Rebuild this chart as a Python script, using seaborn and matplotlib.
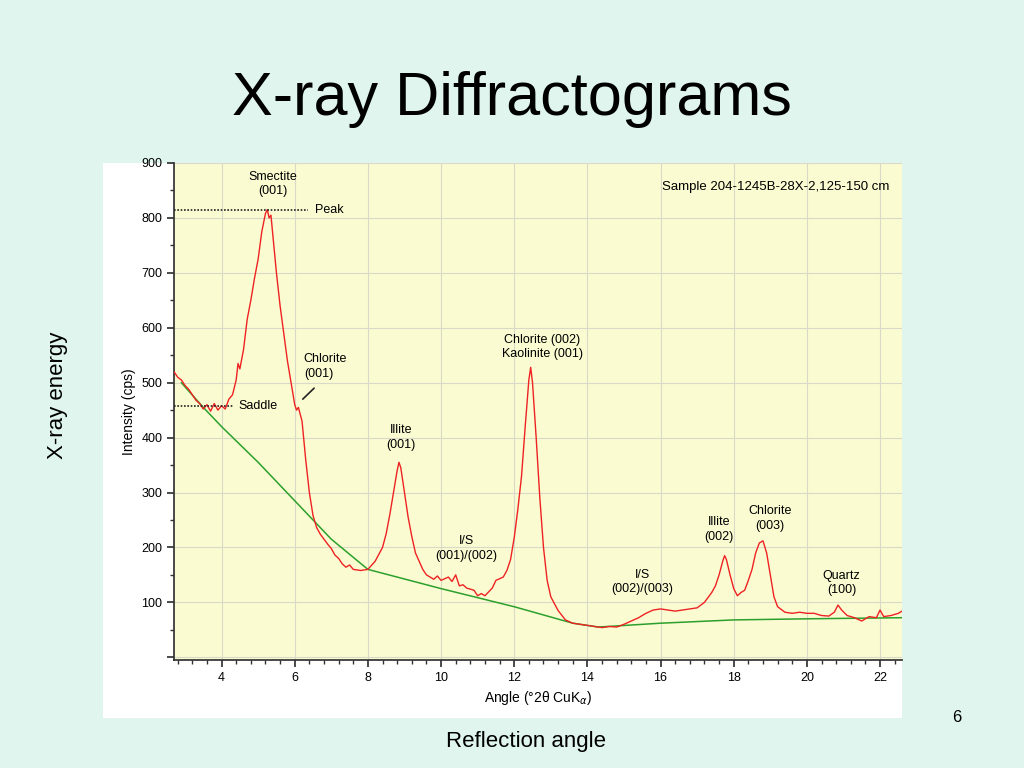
import matplotlib
matplotlib.use("Agg")
import matplotlib.pyplot as plt
import seaborn as sns
import pandas as pd
from matplotlib.ticker import MultipleLocator

angle = [2.7, 2.8, 2.9, 3.0, 3.1, 3.2, 3.3, 3.4, 3.5, 3.6, 3.7, 3.8, 3.9, 4.0, 4.1, 4.2, 4.3, 4.4, 4.45,
         4.5, 4.6, 4.7, 4.8, 4.9, 5.0, 5.1, 5.2, 5.25, 5.3, 5.35, 5.4, 5.5, 5.6, 5.7, 5.8, 5.9, 6.0, 6.05,
         6.1, 6.2, 6.3, 6.4, 6.5, 6.6, 6.7, 6.8, 6.9, 7.0, 7.1, 7.2, 7.3, 7.4, 7.5, 7.6, 7.8, 8.0, 8.2,
         8.4, 8.5, 8.6, 8.7, 8.8, 8.85, 8.9, 9.0, 9.1, 9.2, 9.3, 9.5, 9.6, 9.8, 9.9, 10.0, 10.2, 10.3,
         10.4, 10.5, 10.6, 10.7, 10.9, 11.0, 11.1, 11.2, 11.4, 11.5, 11.7, 11.8, 11.9, 12.0, 12.1, 12.2,
         12.3, 12.4, 12.45, 12.5, 12.6, 12.7, 12.8, 12.9, 13.0, 13.2, 13.4, 13.6, 13.8, 14.0, 14.2, 14.4,
         14.6, 14.8, 15.0, 15.2, 15.4, 15.6, 15.8, 16.0, 16.2, 16.4, 16.6, 16.8, 17.0, 17.2, 17.4, 17.5,
         17.6, 17.7, 17.75, 17.8, 17.9, 18.0, 18.1, 18.2, 18.3, 18.4, 18.5, 18.6, 18.7, 18.8, 18.9, 19.0,
         19.1, 19.2, 19.4, 19.6, 19.8, 20.0, 20.2, 20.4, 20.6, 20.75, 20.85, 20.95, 21.1, 21.3, 21.5,
         21.7, 21.9, 22.0, 22.1, 22.3, 22.5, 22.6]
intensity = [520, 510, 505, 495, 488, 478, 468, 462, 452, 460, 448, 462, 450, 458, 452, 470, 478, 505, 535,
             525, 560, 615, 650, 690, 725, 775, 808, 815, 800, 805, 770, 700, 640, 590, 540, 500, 460, 450,
             455, 430, 360, 300, 258, 236, 224, 215, 206, 198, 186, 180, 170, 164, 168, 160, 158, 160, 175,
             200, 225, 260, 300, 340, 355, 345, 300, 255, 220, 190, 160, 150, 142, 148, 140, 146, 138,
             150, 130, 132, 126, 122, 112, 116, 112, 126, 140, 146, 158, 178, 218, 270, 330,
             420, 505, 528, 500, 400, 290, 200, 140, 110, 85, 68, 62, 60, 58, 56, 54,
             56, 55, 60, 66, 72, 80, 86, 88, 86, 84, 86, 88, 90, 100, 118, 130,
             150, 175, 185, 178, 150, 125, 112, 118, 122, 140, 160, 190, 208, 212, 190, 150,
             110, 92, 82, 80, 82, 80, 80, 76, 75, 82, 95, 86, 76, 72, 66,
             74, 72, 86, 74, 76, 80, 84]

base_angle = [2.9, 3.5, 4.0, 5.0, 6.0, 7.0, 8.0, 10.0, 12.0, 13.6, 14.3, 16.0, 18.0, 20.0, 22.6]
base_intensity = [500, 455, 420, 355, 285, 215, 160, 125, 92, 62, 55, 62, 68, 70, 72]

x_ticks = [4, 6, 8, 10, 12, 14, 16, 18, 20, 22]
y_ticks = [0, 100, 200, 300, 400, 500, 600, 700, 800, 900]

sns.set_theme(style="ticks")
plt.rcParams['font.family'] = ['Liberation Sans', 'DejaVu Sans']
for k in ["text.color", "axes.labelcolor", "xtick.color", "ytick.color"]:
    plt.rcParams[k] = "black"

fig = plt.figure(figsize=(10.24, 7.68), dpi=100, facecolor="#dff5ee")
bg = fig.add_axes([103/1024, 50/768, 799/1024, 555/768], zorder=0)
bg.set_facecolor("white")
bg.set_xticks([]); bg.set_yticks([])
for s in bg.spines.values():
    s.set_visible(False)

fig.text(0.5, 0.87, "X-ray Diffractograms", ha="center", va="center", fontsize=44)
fig.text(57/1024, 1-395/768, "X-ray energy", rotation=90, ha="center", va="center", fontsize=16)
fig.text(526/1024, 1-742/768, "Reflection angle", ha="center", va="center", fontsize=16)
fig.text(957/1024, 1-718/768, "6", ha="center", va="center", fontsize=12)

ax = fig.add_axes([174/1024, 108/768, 728/1024, 497/768], zorder=1)
ax.set_facecolor("#fbfbd2")
df = pd.DataFrame({"angle": angle, "intensity": intensity})
bf = pd.DataFrame({"angle": base_angle, "intensity": base_intensity})
sns.lineplot(data=bf, x="angle", y="intensity", ax=ax, color="#2ca02c", lw=1.1, zorder=3)
sns.lineplot(data=df, x="angle", y="intensity", ax=ax, color="#ee2222", lw=1.0, zorder=4)

ax.set_xlim(2.7, 22.6)
ax.set_ylim(-5, 900)
ax.set_xticks(x_ticks)
ax.xaxis.set_minor_locator(MultipleLocator(0.4))
ax.set_yticks(y_ticks)
ax.set_yticklabels([""] + [str(v) for v in y_ticks[1:]])
ax.yaxis.set_minor_locator(MultipleLocator(50))
ax.tick_params(labelsize=9, color="#333333", length=5)
ax.tick_params(which="minor", length=3, color="#333333")
ax.grid(True, color="#d9d9c8", lw=0.8)
ax.set_axisbelow(True)
for s in ["top", "right"]:
    ax.spines[s].set_visible(False)
for s in ["left", "bottom"]:
    ax.spines[s].set_color("#333333")
ax.set_xlabel("Angle (°2θ CuK$_\\alpha$)", fontsize=10)
ax.set_ylabel("Intensity (cps)", fontsize=10)

ax.plot([2.7, 6.35], [815, 815], ls=(0, (1, 1)), color="#222222", lw=1.2, zorder=5)
ax.plot([2.7, 4.3], [457, 457], ls=(0, (1, 1)), color="#222222", lw=1.2, zorder=5)
ax.text(6.55, 815, "Peak", fontsize=9, va="center")
ax.text(4.45, 457, "Saddle", fontsize=9, va="center")
ax.plot([6.53, 6.22], [490, 470], color="#222222", lw=1.2)
fs = 9
ax.text(5.4, 862, "Smectite\n(001)", fontsize=fs, ha="center", va="center", linespacing=1.3)
ax.text(6.25, 530, "Chlorite\n(001)", fontsize=fs, ha="left", va="center", linespacing=1.3)
ax.text(8.9, 400, "Illite\n(001)", fontsize=fs, ha="center", va="center", linespacing=1.3)
ax.text(12.76, 565, "Chlorite (002)\nKaolinite (001)", fontsize=fs, ha="center", va="center", linespacing=1.3)
ax.text(10.7, 198, "I/S\n(001)/(002)", fontsize=fs, ha="center", va="center", linespacing=1.3)
ax.text(15.5, 137, "I/S\n(002)/(003)", fontsize=fs, ha="center", va="center", linespacing=1.3)
ax.text(17.6, 233, "Illite\n(002)", fontsize=fs, ha="center", va="center", linespacing=1.3)
ax.text(19.0, 253, "Chlorite\n(003)", fontsize=fs, ha="center", va="center", linespacing=1.3)
ax.text(20.95, 135, "Quartz\n(100)", fontsize=fs, ha="center", va="center", linespacing=1.3)
ax.text(22.25, 856, "Sample 204-1245B-28X-2,125-150 cm", fontsize=9.5, ha="right", va="center")

fig.savefig("out.png", dpi=100, facecolor=fig.get_facecolor())
